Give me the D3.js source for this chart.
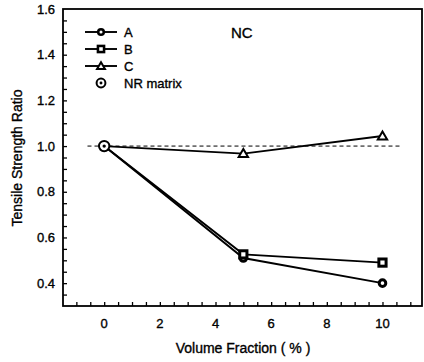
<!DOCTYPE html>
<html>
<head>
<meta charset="utf-8">
<script src="https://cdn.jsdelivr.net/npm/d3@7"></script>
<style>
  body { margin: 0; background: #fff; }
  text { font-family: "Liberation Sans", Arial, sans-serif; fill: #000; stroke: #000; stroke-width: 0.35; }
</style>
</head>
<body>
<svg id="svg" width="424" height="362"></svg>
<script>
  // data
  var volumeFractions = [0, 5, 10];
  var seriesA = [1.0, 0.51, 0.40];
  var seriesB = [1.0, 0.526, 0.49];
  var seriesC = [1.0, 0.967, 1.044];
  var matrixPoint = [0, 1.0];
  var xTickLabels = [0, 2, 4, 6, 8, 10];
  var yTickLabels = [0.4, 0.6, 0.8, 1.0, 1.2, 1.4, 1.6];
  var legendNames = ["A", "B", "C", "NR matrix"];

  var svg = d3.select("#svg");

  // plot box in pixels (window.top is reserved, so boxTop)
  var boxLeft = 63, boxRight = 422, boxTop = 9, boxBottom = 306;

  var x = d3.scaleLinear().domain([-1.48, 11.42]).range([boxLeft, boxRight]);
  var y = d3.scaleLinear().domain([0.3, 1.6]).range([boxBottom, boxTop]);

  ////////////////////////////
  // frame

  svg.append("rect")
    .attr("x", boxLeft).attr("y", boxTop)
    .attr("width", boxRight - boxLeft).attr("height", boxBottom - boxTop)
    .attr("fill", "none").attr("stroke", "#000").attr("stroke-width", 1.8);

  // minor ticks every 0.5 / 0.05, pointing inward
  var xAxis = d3.axisTop(x)
    .tickValues(d3.range(-1, 11.01, 0.5))
    .tickSize(4).tickFormat("");
  svg.append("g").attr("transform", "translate(0," + boxBottom + ")").call(xAxis)
    .call(function(g) { g.select(".domain").remove(); })
    .selectAll("line").attr("stroke-width", 1.3);

  var yAxis = d3.axisRight(y)
    .tickValues(d3.range(0.35, 1.6, 0.05))
    .tickSize(4).tickFormat("");
  svg.append("g").attr("transform", "translate(" + boxLeft + ",0)").call(yAxis)
    .call(function(g) { g.select(".domain").remove(); })
    .selectAll("line").attr("stroke-width", 1.3);

  // tick labels
  svg.append("g").selectAll("text")
    .data(xTickLabels)
    .enter().append("text")
    .attr("x", function(d) { return x(d); })
    .attr("y", 328)
    .attr("text-anchor", "middle")
    .attr("font-size", 13)
    .text(function(d) { return d; });

  svg.append("g").selectAll("text")
    .data(yTickLabels)
    .enter().append("text")
    .attr("x", 55)
    .attr("y", function(d) { return y(d) + 4.5; })
    .attr("text-anchor", "end")
    .attr("font-size", 13)
    .text(function(d) { return d.toFixed(1); });

  // axis titles
  svg.append("text")
    .attr("x", 243).attr("y", 353)
    .attr("text-anchor", "middle").attr("font-size", 14)
    .text("Volume Fraction ( % )");

  svg.append("text")
    .attr("transform", "translate(22,158) rotate(-90)")
    .attr("text-anchor", "middle").attr("font-size", 14)
    .text("Tensile Strength Ratio");

  svg.append("text")
    .attr("x", 231).attr("y", 38)
    .attr("font-size", 15)
    .text("NC");

  ////////////////////////////
  // reference line at 1.0

  svg.append("line")
    .attr("x1", x(-0.6)).attr("x2", x(10.65))
    .attr("y1", y(1.0)).attr("y2", y(1.0))
    .attr("stroke", "#000").attr("stroke-width", 1)
    .attr("stroke-dasharray", "4,3");

  ////////////////////////////
  // series lines

  var line = d3.line()
    .x(function(d, i) { return x(volumeFractions[i]); })
    .y(function(d) { return y(d); });

  [seriesA, seriesB, seriesC].forEach(function(s) {
    svg.append("path")
      .attr("d", line(s))
      .attr("fill", "none").attr("stroke", "#000").attr("stroke-width", 1.9);
  });

  // marker drawing helpers, s scales the size
  var drawMarker = {
    A: function(g, cx, cy, s) {
      g.append("circle").attr("cx", cx).attr("cy", cy).attr("r", 3.3 * s)
        .attr("fill", "#fff").attr("stroke", "#000").attr("stroke-width", 3 * s);
    },
    B: function(g, cx, cy, s) {
      g.append("rect").attr("x", cx - 3.6 * s).attr("y", cy - 3.6 * s)
        .attr("width", 7.2 * s).attr("height", 7.2 * s)
        .attr("fill", "#fff").attr("stroke", "#000").attr("stroke-width", 3 * s);
    },
    C: function(g, cx, cy, s) {
      g.append("path")
        .attr("d", d3.symbol().type(d3.symbolTriangle).size(38 * s * s)())
        .attr("transform", "translate(" + cx + "," + (cy + 0.8) + ")")
        .attr("fill", "#fff").attr("stroke", "#000").attr("stroke-width", 2);
    },
    M: function(g, cx, cy, s) {
      g.append("circle").attr("cx", cx).attr("cy", cy).attr("r", 5.2 * s)
        .attr("fill", "#fff").attr("stroke", "#000").attr("stroke-width", 2);
      g.append("circle").attr("cx", cx).attr("cy", cy).attr("r", 1.7 * s)
        .attr("fill", "#000");
    }
  };

  var gMarks = svg.append("g");
  ["A", "B", "C"].forEach(function(k, j) {
    var s = [seriesA, seriesB, seriesC][j];
    s.forEach(function(v, i) {
      if (i === 0) return; // first point is the NR matrix point
      drawMarker[k](gMarks, x(volumeFractions[i]), y(v), 1);
    });
  });
  drawMarker.M(gMarks, x(matrixPoint[0]), y(matrixPoint[1]), 1);

  ////////////////////////////
  // legend

  var legendKeys = ["A", "B", "C", "M"];
  var gLegend = svg.append("g");
  legendKeys.forEach(function(k, i) {
    var ly = 32 + i * 17;
    if (k !== "M") {
      gLegend.append("line")
        .attr("x1", 85).attr("x2", 117).attr("y1", ly).attr("y2", ly)
        .attr("stroke", "#000").attr("stroke-width", 1.9);
    }
    drawMarker[k](gLegend, 101, ly, 0.85);
    gLegend.append("text")
      .attr("x", 124).attr("y", ly + 4.5)
      .attr("font-size", 13)
      .text(legendNames[i]);
  });
</script>
</body>
</html>
